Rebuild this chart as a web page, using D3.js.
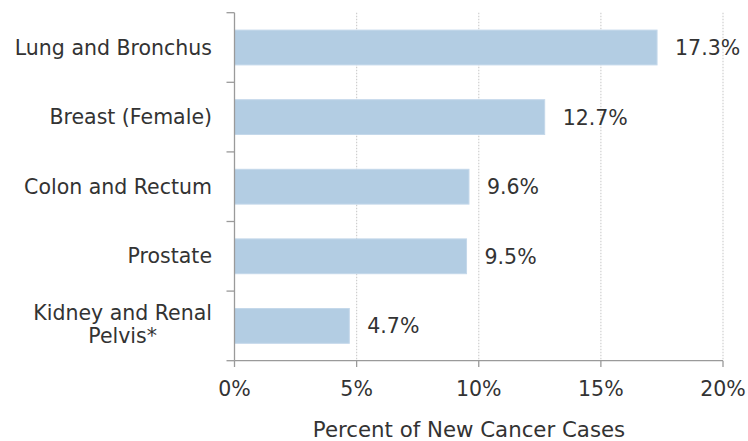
<!DOCTYPE html>
<html>
<head>
<meta charset="utf-8">
<script src="https://cdn.jsdelivr.net/npm/d3@7"></script>
<style>
  html, body { margin: 0; padding: 0; background: #fff; }
  svg { display: block; }
  text { font-family: "DejaVu Sans", Verdana, sans-serif; fill: #333; }
</style>
</head>
<body>
<svg id="chart" width="748" height="441"></svg>
<script>
const categories = ["Lung and Bronchus", "Breast (Female)", "Colon and Rectum", "Prostate", "Kidney and Renal\nPelvis*"];
const values = [17.3, 12.7, 9.6, 9.5, 4.7];
const valueLabels = ["17.3%", "12.7%", "9.6%", "9.5%", "4.7%"];
const xTicks = [0, 5, 10, 15, 20];
const xTickLabels = ["0%", "5%", "10%", "15%", "20%"];
const axisTitle = "Percent of New Cancer Cases";

const svg = d3.select("#chart");
const fontSize = 20.5;

const x = d3.scaleLinear().domain([0, 20]).range([234.5, 723]);
const y = d3.scaleBand().domain(categories).range([12.7, 360.7]).paddingInner(0.5).paddingOuter(0.25);

// grid lines
svg.append("g").selectAll("line").data(xTicks.filter(d => d > 0)).join("line")
  .attr("x1", d => x(d)).attr("x2", d => x(d))
  .attr("y1", 12.7).attr("y2", 360.7)
  .attr("stroke", "#cfcfcf").attr("stroke-width", 1.2)
  .attr("stroke-dasharray", "1.5,1.5");

// bars
svg.append("g").selectAll("rect").data(categories).join("rect")
  .attr("x", x(0))
  .attr("y", d => y(d))
  .attr("width", (d, i) => x(values[i]) - x(0))
  .attr("height", y.bandwidth())
  .attr("fill", "#b3cde3")
  .attr("stroke", "#c4d8ea").attr("stroke-width", 1);

// value labels
svg.append("g").selectAll("text").data(categories).join("text")
  .attr("x", (d, i) => x(values[i]) + 18)
  .attr("y", d => y(d) + y.bandwidth() / 2 + 7.5)
  .attr("font-size", fontSize)
  .text((d, i) => valueLabels[i]);

// y axis line + ticks at band boundaries
const axisColor = "#9a9a9a";
svg.append("line").attr("x1", x(0)).attr("x2", x(0)).attr("y1", 12.7).attr("y2", 360.7)
  .attr("stroke", axisColor).attr("stroke-width", 1.3);
const step = y.step();
const boundaries = d3.range(categories.length + 1).map(i => 12.7 + i * step);
svg.append("g").selectAll("line").data(boundaries).join("line")
  .attr("x1", x(0) - 8).attr("x2", x(0))
  .attr("y1", d => d).attr("y2", d => d)
  .attr("stroke", axisColor).attr("stroke-width", 1.3);

// x axis line + ticks
svg.append("line").attr("x1", x(0)).attr("x2", x(20)).attr("y1", 360.7).attr("y2", 360.7)
  .attr("stroke", axisColor).attr("stroke-width", 1.3);
svg.append("g").selectAll("line").data(xTicks).join("line")
  .attr("x1", d => x(d)).attr("x2", d => x(d))
  .attr("y1", 360.7).attr("y2", 367)
  .attr("stroke", axisColor).attr("stroke-width", 1.3);
svg.append("g").selectAll("text").data(xTicks).join("text")
  .attr("x", d => x(d)).attr("y", 396)
  .attr("text-anchor", "middle")
  .attr("font-size", fontSize)
  .text((d, i) => xTickLabels[i]);

// axis title
svg.append("text").attr("x", 469).attr("y", 437)
  .attr("text-anchor", "middle").attr("font-size", 21.3)
  .text(axisTitle);

// category labels
const labelRight = 212;
categories.forEach(c => {
  const lines = c.split("\n");
  const cy = y(c) + y.bandwidth() / 2;
  if (lines.length === 1) {
    svg.append("text").attr("x", labelRight).attr("y", cy + 7)
      .attr("text-anchor", "end").attr("font-size", fontSize).text(c);
  } else {
    const t = svg.append("text").attr("font-size", fontSize).attr("text-anchor", "middle");
    const tspans = lines.map((l, i) => t.append("tspan").attr("y", cy - 6 + i * 23.3).text(l));
    let maxW = 0;
    tspans.forEach(ts => { maxW = Math.max(maxW, ts.node().getComputedTextLength()); });
    tspans.forEach(ts => ts.attr("x", labelRight - maxW / 2));
  }
});
</script>
</body>
</html>
